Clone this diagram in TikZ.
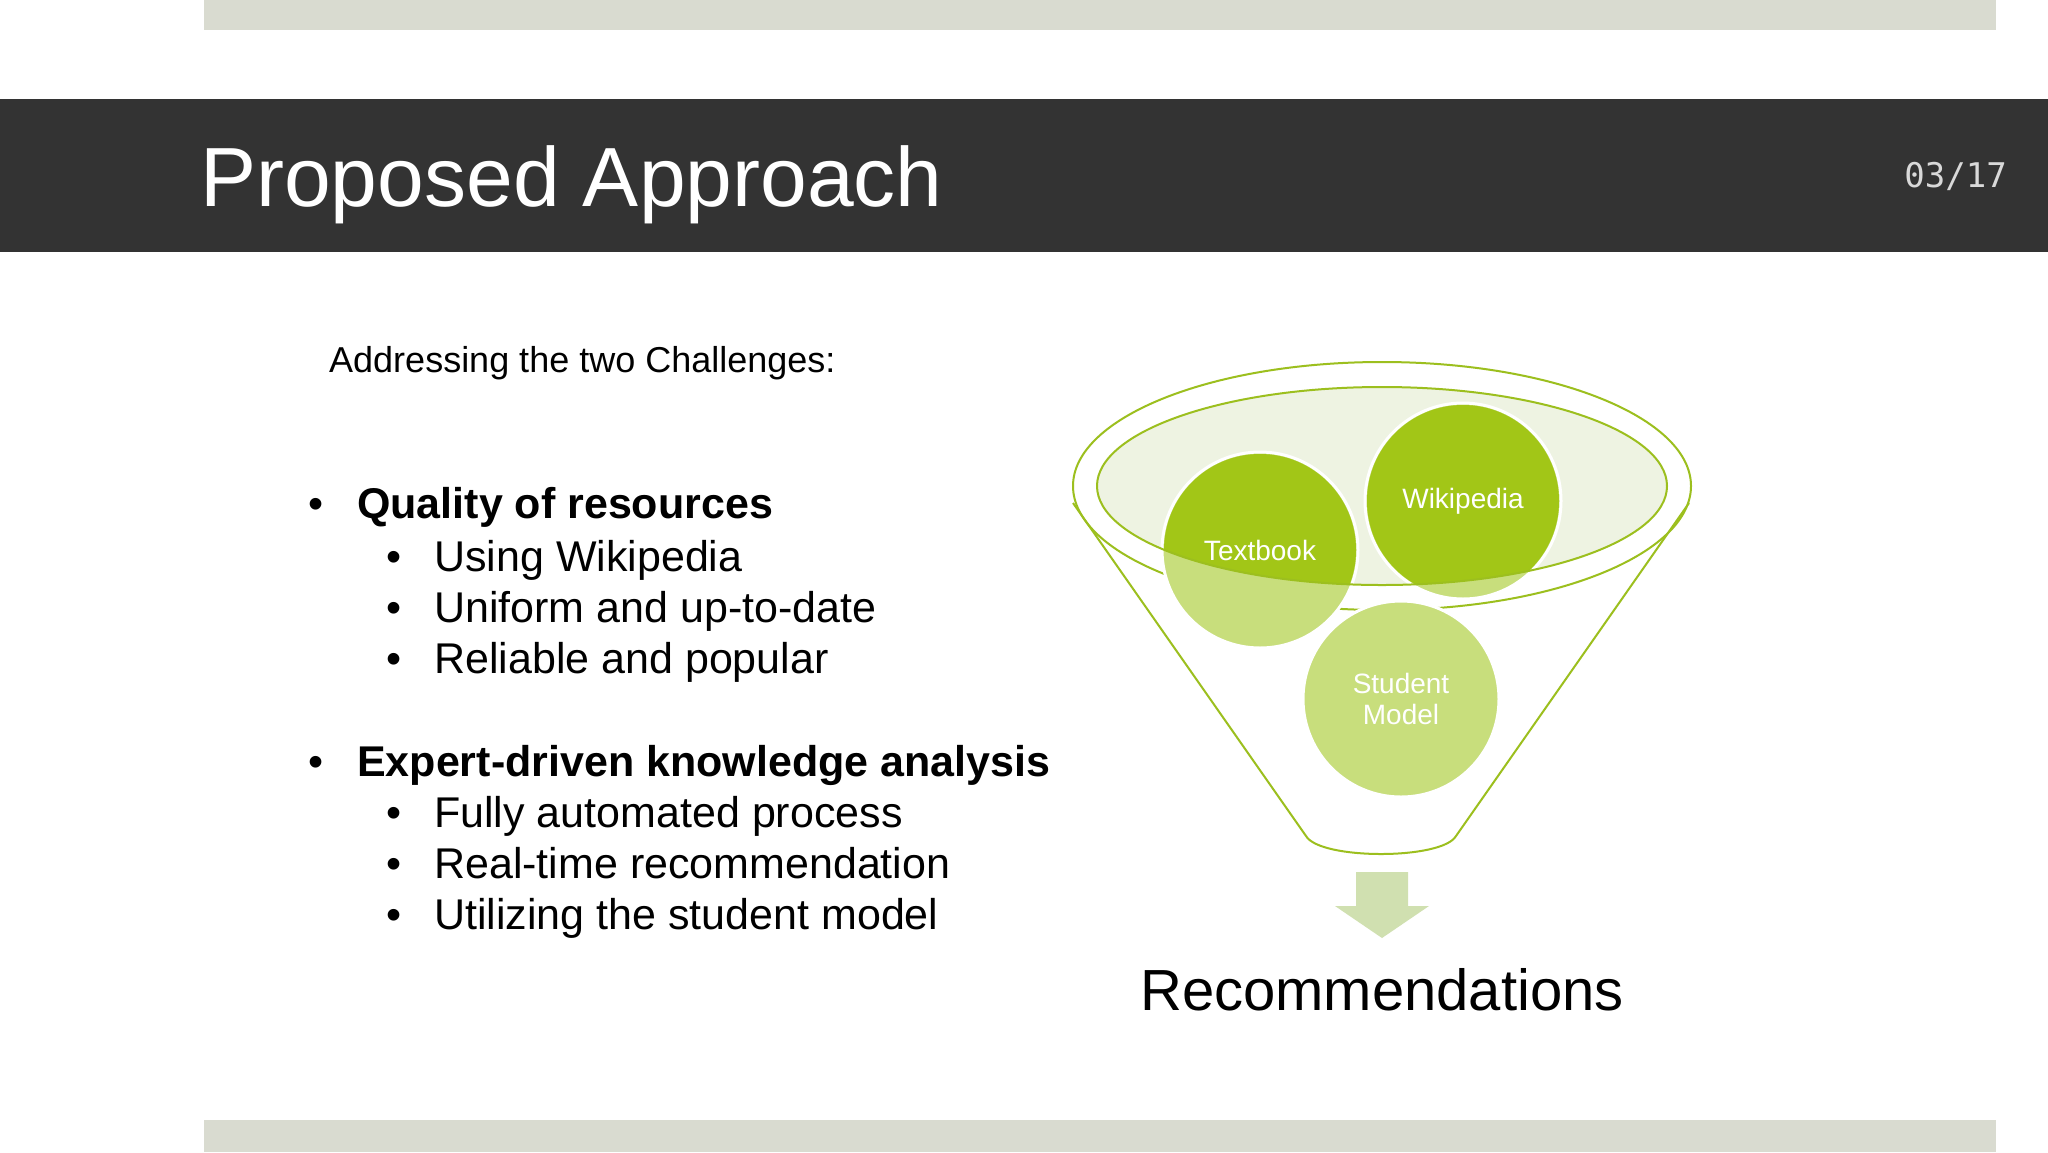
\documentclass[tikz,border=0pt]{standalone}
\usepackage{fontspec}
\setmainfont{Liberation Sans}
\newfontfamily\monof{DejaVu Sans Mono}
\definecolor{barg}{HTML}{D9DBD0}
\definecolor{band}{HTML}{333333}
\definecolor{dkg}{HTML}{A2C617}
\definecolor{ltg}{HTML}{C8DE7C}
\definecolor{edg}{HTML}{9CBF1E}
\definecolor{ellf}{HTML}{EEF3E2}
\definecolor{arr}{HTML}{D0E0B0}
\tikzset{
 txt/.style={anchor=base west,inner sep=0pt,font=\fontsize{43}{50}\selectfont},
 circ/.style={circle,minimum size=196pt,inner sep=0pt,draw=white,line width=3pt},
 lab/.style={text=white,font=\fontsize{28}{30}\selectfont,align=center,inner sep=0pt}
}
\begin{document}
\begin{tikzpicture}[x=1pt,y=-1pt]
\useasboundingbox (0,0) rectangle (2048,1152);
\fill[white] (0,0) rectangle (2048,1152);
\fill[barg] (204,0) rectangle (1996,30);
\fill[barg] (204,1120) rectangle (1996,1152);
\fill[band] (0,99) rectangle (2048,252);
\node[anchor=base west,inner sep=0pt,text=white,font=\fontsize{84}{90}\selectfont] (title) at (200,206) {Proposed Approach};
\node[anchor=base east,inner sep=0pt,text=white!85!black,font=\monof\fontsize{34}{36}\selectfont] (num) at (2007,187) {03/17};
\node[txt,font=\fontsize{36}{40}\selectfont] (h) at (329,372) {Addressing the two Challenges:};
\node[txt] (b1) at (308,518) {•};
\node[txt,font=\fontsize{43}{50}\selectfont\bfseries] (q) at (357,518) {Quality of resources};
\foreach \y/\t [count=\i] in {571/Using Wikipedia,622/Uniform and up-to-date,673/Reliable and popular}{
 \node[txt] (sa\i) at (386,\y) {•};
 \node[txt] (ta\i) at (434,\y) {\t};}
\node[txt] (b2) at (308,776) {•};
\node[txt,font=\fontsize{43}{50}\selectfont\bfseries] (e) at (357,776) {Expert-driven knowledge analysis};
\foreach \y/\t [count=\i] in {827/Fully automated process,878/Real-time recommendation,929/Utilizing the student model}{
 \node[txt] (sb\i) at (386,\y) {•};
 \node[txt] (tb\i) at (434,\y) {\t};}
% funnel
\draw[edg,line width=2pt] (1073,503) -- (1306,836) .. controls (1320,860) and (1442,860) .. (1456,836) -- (1689,503);
\draw[edg,line width=2pt] (1382,486) ellipse [x radius=309,y radius=124];
\fill[ellf] (1382,486) ellipse [x radius=285,y radius=99];
\node[circ,fill=ltg] (tb) at (1260,550) {};
\node[circ,fill=ltg] (wk) at (1463,501) {};
\node[circ,fill=ltg] (sm) at (1401,699) {};
\begin{scope}
\clip (1382,486) ellipse [x radius=285,y radius=99];
\fill[dkg] (1260,550) circle (96);
\fill[dkg] (1463,501) circle (96);
\end{scope}
\draw[edg,line width=2pt] (1382,486) ellipse [x radius=285,y radius=99];
\node[lab] at (1260,550) {Textbook};
\node[lab] at (1463,501) {Wikipedia};
\node[lab,font=\fontsize{28}{31}\selectfont] at (1401,699) {Student\\Model};
\node[inner sep=0pt] (src) at (1382,870) {};
\fill[arr] (1356,872) -- (1408,872) -- (1408,906) -- (1429,906) -- (1382,938) -- (1335,906) -- (1356,906) -- cycle;
\node[anchor=base,inner sep=0pt,font=\fontsize{58}{62}\selectfont] (rec) at (1382,1010) {Recommendations};
\end{tikzpicture}
\end{document}
